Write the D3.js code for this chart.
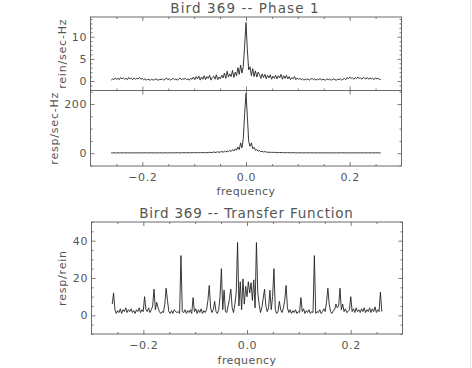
<!DOCTYPE html>
<html><head><meta charset="utf-8">
<script src="https://cdn.jsdelivr.net/npm/d3@7"></script>
<style>
html,body{margin:0;padding:0;background:#fff;}
svg{display:block;}
text{font-family:"DejaVu Sans",sans-serif;fill:#555;}
</style></head>
<body>
<svg id="c" width="472" height="368"></svg>
<script>
// ---------- data ----------
const freqMin = -0.26, freqMax = 0.26;
const titles = ["Bird 369 -- Phase 1", "Bird 369 -- Transfer Function"];
const xLabel = "frequency";
const yLabels = ["rein/sec-Hz", "resp/sec-Hz", "resp/rein"];
const xTickValues = [-0.2, 0.0, 0.2];
const reinTicks = [0, 5, 10];
const respTicks = [0, 200];
const transferTicks = [0, 20, 40];

const rein = [
0.2,0.5,0.3,0.7,0.4,0.6,0.3,0.8,0.5,0.7,
0.4,0.6,0.3,0.8,0.5,0.6,0.3,0.7,0.4,0.6,
0.5,0.8,0.4,0.6,0.3,0.5,0.2,0.4,0.3,0.2,
0.4,0.2,0.3,0.5,0.3,0.2,0.4,0.3,0.5,0.2,
0.4,0.7,0.3,0.5,0.2,0.4,0.6,0.3,0.5,0.2,
0.4,0.7,0.3,0.5,0.4,0.6,0.3,0.5,0.2,0.6,
0.4,0.9,0.3,1.0,0.5,1.1,0.2,0.9,0.4,1.2,
0.3,1.0,0.6,1.3,0.2,0.8,1.1,0.4,1.4,0.3,
0.9,0.5,1.3,0.7,1.8,0.6,2.2,0.9,1.6,1.0,
2.4,0.8,2.0,1.2,3.0,1.5,3.6,1.8,3.3,8.0,
13.2,
7.0,2.5,3.2,1.2,2.8,1.0,2.3,0.9,2.0,1.4,
0.6,1.6,0.8,1.5,0.5,1.3,0.7,1.4,0.4,1.1,
0.6,1.3,0.5,1.2,0.7,1.5,0.4,1.2,0.6,1.3,
0.5,1.0,0.3,0.8,0.5,1.0,0.3,0.7,0.4,0.6,
0.3,0.5,0.2,0.4,0.3,0.5,0.2,0.4,0.6,0.3,
0.5,0.2,0.4,0.3,0.6,0.2,0.4,0.3,0.2,0.5,
0.3,0.4,0.2,0.3,0.5,0.3,0.2,0.4,0.3,0.5,
0.2,0.4,0.6,0.3,0.8,0.5,0.9,0.6,0.7,0.4,
0.8,0.5,0.9,0.6,0.7,0.4,0.8,0.6,0.5,0.8,
0.4,0.7,0.5,0.6,0.3,0.7,0.5,0.6,0.4,0.3
];

const resp = [
1.5,1,2,1.5,1,2,1,1.5,2,1,
1.5,1,2,1,1.5,1,2,1.5,1,2,
1,1.5,2,1,1.5,2,1,1.5,1,2,
1.5,1,2,1.5,1,2,1,2,1.5,1,
2,1.5,1,2,1.5,2,1,2,1.5,2.5,
1.5,2,1,2.5,1.5,2,1.5,2.5,2,1.5,
2.5,1.5,3,2,2.5,1.5,3,2,3.5,2,
2,3,2,4,2.5,3,5,3,4,6,
3.5,5,7,4,8,5,9,6,12,7,
14,9,18,12,25,15,42,22,60,160,
243,
150,48,28,42,18,24,12,15,8,11,
6,8,5,7,4,5,3,4.5,3,4,
2.5,3.5,2,3,2.5,3,2,2.5,1.5,3,
2,2.5,1.5,2,2.5,1.5,2,1,2,1.5,
2,1,1.5,2,1,1.5,2,1,2,1.5,
1,2,1.5,1,2,1,1.5,2,1,1.5,
2,1,1.5,1,2,1.5,1,2,1,1.5,
2,1.5,1,2,1,1.5,2,1,1.5,2,
1,2,1.5,1,2,1.5,1,2,1,1.5,
2,1,1.5,2,1,1.5,2,1,1.5,1
];

const transfer = [
6,12,3,1,2.5,1.5,3.5,1,3,2,
4,1.5,3,2,3.5,1.5,2.5,1,3,2,
4,1.5,3,2,10,3,2,4,1.5,3,
5,14,3,7,4,2,1,2,1.5,6,
14.5,8,2,1,2.5,1,3,2,1.5,2,
1,32,2,1.5,3,1,2.5,1.5,3,1,
9.5,2,3.5,1,3,1.5,3.5,1,2.5,1.5,
3,8,16,4,1.5,3,7.5,2,1,3,
10,25,3,13.5,2,1.5,5,9,14,4,
1.5,6,12,39,5,18,3,19.5,6,15.5,
10,
18,12,17.5,8,19,4,39,12,6,1.5,
4,9,14,5,2,4,13.5,3,10,25,
3,1,2,7.5,3,1.5,4,8,16,4,
1.5,3,1,2.5,1.5,3,1,2,1.5,9.5,
2,3.5,1,2.5,1.5,3,1,2,1.5,32,
1,2,1.5,3,1,2,3.5,2,7,14.5,
6,2,1,2.5,3,6,4,5,14.5,3,
6,2,3.5,1.5,2,3,10,2,3.5,1.5,
4,2,3,1.5,3.5,2,4,1.5,3,2,
4,1.5,3.5,2,4.5,1.5,3,2,12.5,2
];

// ---------- drawing ----------
const svg = d3.select("#c");
const ink = "#5a5a5a";
const lineInk = "#222";
const font = '"DejaVu Sans",sans-serif';

svg.append("line").attr("x1",470.5).attr("x2",470.5).attr("y1",0).attr("y2",368)
  .attr("stroke","#e6e6e6").attr("stroke-width",1);

const panels = [
  {vals: rein, ticks: reinTicks, minorStep: 1, yDom: [-2.14, 14.45], box: [90.5, 401.5, 17, 90.5],
   xLabels: false, yLabel: yLabels[0], yLabX: 62},
  {vals: resp, ticks: respTicks, minorStep: 50, yDom: [-52, 255], box: [90.5, 401.5, 90.5, 166],
   xLabels: true, yLabel: yLabels[1], yLabX: 54, xLabY: 195},
  {vals: transfer, ticks: transferTicks, minorStep: 5, yDom: [-10, 50], box: [91.5, 402.5, 222, 334],
   xLabels: true, yLabel: yLabels[2], yLabX: 62, xLabY: 364}
];

function minorRange(dom, step) {
  const out = [];
  const s = Math.ceil(dom[0] / step), e = Math.floor(dom[1] / step);
  for (let k = s; k <= e; k++) out.push(+(k * step).toFixed(6));
  return out;
}

panels.forEach((p, pi) => {
  const [x0, x1, y0, y1] = p.box;
  const x = d3.scaleLinear().domain([-0.3, 0.3]).range([x0, x1]);
  const y = d3.scaleLinear().domain(p.yDom).range([y1, y0]);
  const g = svg.append("g");

  const xMinor = minorRange([-0.3, 0.3], 0.05).filter(v => !xTickValues.some(t => Math.abs(t - v) < 1e-9));
  const yMinor = minorRange(p.yDom, p.minorStep).filter(v => !p.ticks.includes(v));

  const fmtX = d3.format(".1f");
  const addAxis = (axisFn, scale, transform, major, minor, withLabels, fmt, pad) => {
    const a = g.append("g").attr("transform", transform)
      .call(axisFn(scale).tickValues(major).tickSize(-4).tickSizeOuter(0).tickPadding(pad)
        .tickFormat(withLabels ? fmt : ""));
    const m = g.append("g").attr("transform", transform)
      .call(axisFn(scale).tickValues(minor).tickSize(-2).tickSizeOuter(0).tickFormat(""));
    [a, m].forEach(s => {
      s.select(".domain").remove();
      s.selectAll("line").attr("stroke", ink).attr("stroke-width", 0.8);
      s.selectAll("text").attr("fill", ink).style("font-size", "11px").style("font-family", font)
        .style("letter-spacing", "0.6px");
    });
    return a;
  };
  addAxis(d3.axisBottom, x, `translate(0,${y1})`, xTickValues, xMinor, p.xLabels, fmtX, 7);
  if (pi !== 1) addAxis(d3.axisTop, x, `translate(0,${y0})`, xTickValues, xMinor, false, fmtX, 3);
  else addAxis(d3.axisTop, x, `translate(0,${y0})`, xTickValues, [], false, fmtX, 3);
  addAxis(d3.axisLeft, y, `translate(${x0},0)`, p.ticks, yMinor, true, d3.format("d"), 3.5);
  addAxis(d3.axisRight, y, `translate(${x1},0)`, p.ticks, yMinor, false, d3.format("d"), 3);

  if (pi !== 1) {
    g.append("rect").attr("x", x0).attr("y", y0).attr("width", x1 - x0).attr("height", y1 - y0)
      .attr("fill", "none").attr("stroke", ink).attr("stroke-width", 0.9);
  } else {
    g.append("path").attr("d", `M${x0},${y0}V${y1}H${x1}V${y0}`)
      .attr("fill", "none").attr("stroke", ink).attr("stroke-width", 0.9);
  }

  const n = p.vals.length;
  const fx = d3.scaleLinear().domain([0, n - 1]).range([freqMin, freqMax]);
  const line = d3.line().x((d, i) => x(fx(i))).y(d => y(d));
  g.append("path").datum(p.vals).attr("d", line)
    .attr("fill", "none").attr("stroke", lineInk).attr("stroke-width", 0.9).attr("stroke-linejoin", "round");

  g.append("text").attr("transform", `translate(${p.yLabX},${(y0 + y1) / 2}) rotate(-90)`)
    .attr("text-anchor", "middle").attr("dy", "0.35em").style("font-size", "11px")
    .style("letter-spacing", "0.8px").text(p.yLabel);
  if (p.xLabels) {
    g.append("text").attr("x", (x0 + x1) / 2).attr("y", p.xLabY).attr("text-anchor", "middle")
      .style("font-size", "11px").style("letter-spacing", "0.4px").text(xLabel);
  }
});

svg.append("text").attr("x", 245).attr("y", 13).attr("text-anchor", "middle")
  .style("font-size", "13.5px").style("letter-spacing", "1.1px").text(titles[0]);
svg.append("text").attr("x", 246.5).attr("y", 218).attr("text-anchor", "middle")
  .style("font-size", "13.5px").style("letter-spacing", "0.8px").text(titles[1]);
</script>
</body></html>
